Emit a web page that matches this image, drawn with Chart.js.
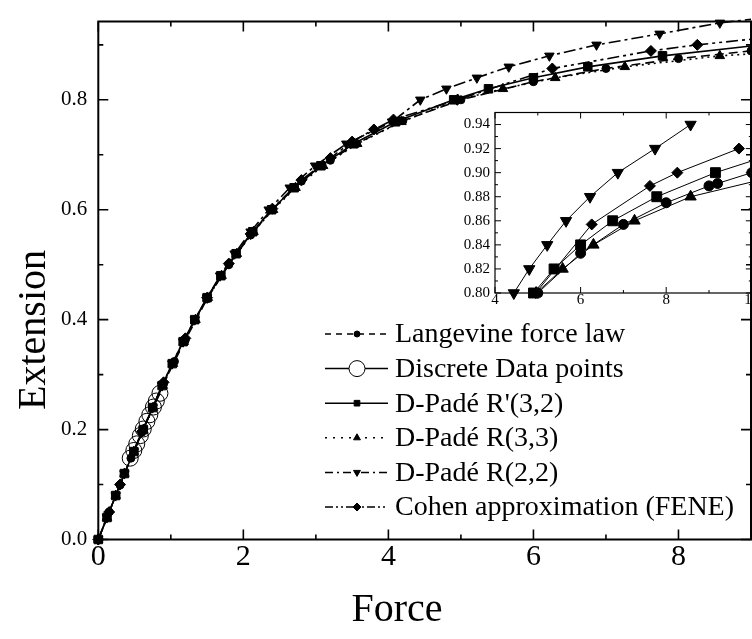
<!DOCTYPE html>
<html>
<head>
<meta charset="utf-8">
<script src="https://cdn.jsdelivr.net/npm/chart.js@4.4.0/dist/chart.umd.min.js"></script>
<style>
  html, body { margin: 0; padding: 0; background: #fff; overflow: hidden; }
  #wrap { position: relative; width: 752px; height: 639px; overflow: hidden; }
  #main { position: absolute; left: 0; top: 0; }
  #inset { position: absolute; left: 440px; top: 100px; }
</style>
</head>
<body>
<div id="wrap">
  <canvas id="main" width="760" height="639"></canvas>
  <canvas id="inset" width="320" height="215"></canvas>
</div>
<script>
// data: force (x) and extension (y)
const langForce = [0, 0.15, 0.3, 0.45, 0.6, 0.75, 0.9, 1.05, 1.2, 1.5, 1.8, 2.1, 2.4, 2.8, 3.2, 3.56, 4.2, 5, 6, 7, 8, 9, 9.2, 10];
const langExt   = [0, 0.050, 0.099, 0.148, 0.195, 0.240, 0.283, 0.324, 0.363, 0.438, 0.500, 0.554, 0.600, 0.652, 0.690, 0.720, 0.762, 0.800, 0.833, 0.857, 0.875, 0.889, 0.891, 0.900];

const dataForce = [0.44, 0.49, 0.53, 0.58, 0.62, 0.67, 0.71, 0.76, 0.80, 0.85];
const dataExt   = [0.148, 0.162, 0.174, 0.189, 0.201, 0.215, 0.227, 0.241, 0.252, 0.266];

// D-Pade R'(3,2)
const r32Force = [0, 0.12, 0.24, 0.36, 0.49, 0.62, 0.75, 0.88, 1.02, 1.17, 1.33, 1.50, 1.69, 1.90, 2.13, 2.39, 2.70, 3.07, 3.52, 4.10, 4.90, 5.38, 6.00, 6.75, 7.78, 9.15, 10.9];
const r32Ext   = [0, 0.04, 0.08, 0.12, 0.16, 0.20, 0.24, 0.28, 0.32, 0.36, 0.40, 0.44, 0.48, 0.52, 0.56, 0.60, 0.64, 0.68, 0.72, 0.76, 0.80, 0.82, 0.84, 0.86, 0.88, 0.90, 0.92];

// D-Pade R(3,3)
const r33Force = [0, 0.12, 0.24, 0.36, 0.49, 0.62, 0.755, 0.89, 1.03, 1.18, 1.34, 1.51, 1.70, 1.91, 2.14, 2.41, 2.72, 3.10, 3.57, 4.18, 4.96, 5.58, 6.30, 7.26, 8.57, 10.9];
const r33Ext   = [0, 0.04, 0.08, 0.12, 0.16, 0.20, 0.24, 0.28, 0.32, 0.36, 0.40, 0.44, 0.48, 0.52, 0.56, 0.60, 0.64, 0.68, 0.72, 0.76, 0.80, 0.82, 0.84, 0.86, 0.88, 0.90];

// D-Pade R(2,2)
const r22Force = [0, 0.12, 0.24, 0.36, 0.49, 0.62, 0.75, 0.88, 1.02, 1.17, 1.33, 1.50, 1.68, 1.88, 2.10, 2.35, 2.64, 2.99, 3.42, 4.05, 4.44, 4.80, 5.22, 5.66, 6.22, 6.87, 7.74, 8.57, 9.9];
const r22Ext   = [0, 0.04, 0.08, 0.12, 0.16, 0.20, 0.24, 0.28, 0.32, 0.36, 0.40, 0.44, 0.48, 0.52, 0.56, 0.60, 0.64, 0.68, 0.72, 0.76, 0.80, 0.82, 0.84, 0.86, 0.88, 0.90, 0.92, 0.94, 0.96];

// Cohen approximation (FENE)
const cohenForce = [0, 0.15, 0.3, 0.6, 0.9, 1.2, 1.5, 1.8, 2.1, 2.4, 2.8, 3.2, 3.5, 3.8, 4.07, 4.95, 6.26, 7.62, 8.26, 9.70];
const cohenExt   = [0, 0.050, 0.100, 0.196, 0.286, 0.366, 0.440, 0.502, 0.556, 0.602, 0.654, 0.694, 0.724, 0.746, 0.764, 0.800, 0.857, 0.889, 0.900, 0.920];

const mainXTicks = [0, 2, 4, 6, 8];
const mainXMinor = [1, 3, 5, 7];
const mainYTicks = [0, 0.2, 0.4, 0.6, 0.8];
const mainYMinor = [0.1, 0.3, 0.5, 0.7, 0.9];
const insetXTicks = [4, 6, 8, 10];
const insetXMinor = [5, 7, 9];
const insetYTicks = [0.80, 0.82, 0.84, 0.86, 0.88, 0.90, 0.92, 0.94];
const insetYMinor = [0.81, 0.83, 0.85, 0.87, 0.89, 0.91, 0.93];

const SERIF = '"Liberation Serif", "Times New Roman", serif';

const series = [
  { label: 'Langevine force law', fx: langForce, ey: langExt, shape: 'circle', rot: 0, r: 4, ri: 5, lr: 3, dash: [9, 5], ldash: [6, 5], filled: true },
  { label: 'Discrete Data points', fx: dataForce, ey: dataExt, shape: 'circle', rot: 0, r: 8, ri: 0, lr: 8, dash: [], ldash: [], filled: false, noInset: true },
  { label: "D-Padé R'(3,2)", fx: r32Force, ey: r32Ext, shape: 'rect', rot: 0, r: 6, ri: 7, lr: 4, dash: [], ldash: [], filled: true },
  { label: 'D-Padé R(3,3)', fx: r33Force, ey: r33Ext, shape: 'triangle', rot: 0, r: 5.5, ri: 6.5, lr: 4, dash: [2, 4], ldash: [2, 6], filled: true },
  { label: 'D-Padé R(2,2)', fx: r22Force, ey: r22Ext, shape: 'triangle', rot: 180, r: 5.5, ri: 6.5, lr: 4, dash: [12, 4, 3, 4], ldash: [8, 4, 2, 4], filled: true },
  { label: 'Cohen approximation (FENE)', fx: cohenForce, ey: cohenExt, shape: 'rectRot', rot: 0, r: 5.5, ri: 5.5, lr: 4, dash: [12, 4, 3, 4, 3, 4], ldash: [8, 3, 2, 3, 2, 3], filled: true }
];

function pts(xs, ys) {
  return xs.map((x, i) => ({ x: x, y: ys[i] }));
}

function line(ctx, x1, y1, x2, y2) {
  ctx.moveTo(x1, y1);
  ctx.lineTo(x2, y2);
}

// frame with inward ticks, drawn from the chart's own scales
function drawFrame(chart, o) {
  const { ctx, chartArea: a } = chart;
  const xs = chart.scales.x, ys = chart.scales.y;
  ctx.save();
  ctx.strokeStyle = '#000';
  ctx.setLineDash([]);
  ctx.lineWidth = o.frameWidth;
  ctx.strokeRect(a.left, a.top, a.right - a.left, a.bottom - a.top);
  ctx.lineWidth = o.tickWidth;
  ctx.beginPath();
  o.xMajor.forEach(v => {
    const px = xs.getPixelForValue(v);
    line(ctx, px, a.bottom, px, a.bottom - o.major);
    line(ctx, px, a.top, px, a.top + o.major);
  });
  o.xMinor.forEach(v => {
    const px = xs.getPixelForValue(v);
    line(ctx, px, a.bottom, px, a.bottom - o.minor);
    line(ctx, px, a.top, px, a.top + o.minor);
  });
  o.yMajor.forEach(v => {
    const py = ys.getPixelForValue(v);
    line(ctx, a.left, py, a.left + o.major, py);
    line(ctx, a.right, py, a.right - o.major, py);
  });
  o.yMinor.forEach(v => {
    const py = ys.getPixelForValue(v);
    line(ctx, a.left, py, a.left + o.minor, py);
    line(ctx, a.right, py, a.right - o.minor, py);
  });
  ctx.stroke();
  ctx.restore();
}

const mainDecor = {
  id: 'mainDecor',
  afterDraw(chart) {
    drawFrame(chart, { frameWidth: 2, tickWidth: 1.6, major: 10, minor: 5,
      xMajor: mainXTicks, xMinor: mainXMinor, yMajor: mainYTicks, yMinor: mainYMinor });
    const ctx = chart.ctx;
    ctx.save();
    ctx.fillStyle = '#000';
    // axis titles
    ctx.font = '40px ' + SERIF;
    ctx.textAlign = 'center';
    ctx.textBaseline = 'middle';
    ctx.fillText('Force', 397, 610);
    ctx.save();
    ctx.translate(34, 330);
    ctx.rotate(-Math.PI / 2);
    ctx.fillText('Extension', 0, 0);
    ctx.restore();

    // legend
    const x0 = 325, x1 = 388, xm = 357, xt = 395, top = 334, step = 34.6;
    ctx.font = '28px ' + SERIF;
    ctx.textAlign = 'left';
    series.forEach((s, i) => {
      const y = top + i * step;
      ctx.strokeStyle = '#000';
      ctx.lineWidth = 1.5;
      ctx.setLineDash(s.ldash);
      ctx.beginPath();
      if (s.filled) {
        line(ctx, x0, y, x1, y);
      } else {
        line(ctx, x0, y, xm - s.lr, y);
        line(ctx, xm + s.lr, y, x1, y);
      }
      ctx.stroke();
      ctx.setLineDash([]);
      ctx.fillStyle = s.filled ? '#000' : 'rgba(0,0,0,0)';
      ctx.lineWidth = 1;
      Chart.helpers.drawPoint(ctx, { pointStyle: s.shape, radius: s.lr, rotation: s.rot, borderWidth: 1 }, xm, y);
      ctx.fillStyle = '#000';
      ctx.fillText(s.label, xt, y + 1);
    });
    ctx.restore();
  }
};

const insetDecor = {
  id: 'insetDecor',
  afterDraw(chart) {
    drawFrame(chart, { frameWidth: 1.2, tickWidth: 1, major: 6, minor: 3,
      xMajor: insetXTicks, xMinor: insetXMinor, yMajor: insetYTicks, yMinor: insetYMinor });
  }
};

const mainDatasets = series.map(s => ({
  label: s.label,
  data: pts(s.fx, s.ey),
  showLine: true,
  borderColor: '#000',
  borderWidth: 1.6,
  borderDash: s.dash,
  pointStyle: s.shape,
  pointRotation: s.rot,
  pointRadius: s.r,
  pointBackgroundColor: s.filled ? '#000' : 'rgba(0,0,0,0)',
  pointBorderColor: '#000',
  pointBorderWidth: 1,
  clip: { left: 8, top: 8, right: 0, bottom: 8 }
}));

const insetDatasets = series.filter(s => !s.noInset).map(s => {
  const p = pts(s.fx, s.ey).filter(q => q.x >= 4 && q.y >= 0.7999 && q.y <= 0.95);
  return {
    label: s.label,
    data: p,
    showLine: true,
    borderColor: '#000',
    borderWidth: 1,
    pointStyle: s.shape,
    pointRotation: s.rot,
    pointRadius: s.ri,
    pointBackgroundColor: '#000',
    pointBorderColor: '#000',
    pointBorderWidth: 1,
    clip: { left: 10, top: 10, right: 0, bottom: 10 }
  };
});

new Chart(document.getElementById('main'), {
  type: 'scatter',
  data: { datasets: mainDatasets },
  options: {
    responsive: false,
    animation: false,
    devicePixelRatio: 1,
    layout: { padding: { left: 0, top: 7, right: 2, bottom: 0 } },
    plugins: { legend: { display: false }, tooltip: { enabled: false } },
    scales: {
      x: {
        type: 'linear', min: 0, max: 9,
        grid: { display: false, drawTicks: false },
        border: { display: false },
        afterFit: sc => { sc.height = 99.5; },
        afterBuildTicks: sc => { sc.ticks = mainXTicks.map(v => ({ value: v })); },
        ticks: { autoSkip: false, maxRotation: 0, padding: 3, color: '#000',
          font: { family: SERIF, size: 30, lineHeight: 1 },
          callback: v => String(v) }
      },
      y: {
        type: 'linear', min: 0, max: 0.9425,
        grid: { display: false, drawTicks: false },
        border: { display: false },
        afterFit: sc => { sc.width = 98.3; },
        afterBuildTicks: sc => { sc.ticks = mainYTicks.map(v => ({ value: v })); },
        ticks: { autoSkip: false, padding: 11, color: '#000',
          font: { family: SERIF, size: 21, lineHeight: 1 },
          callback: v => Number(v).toFixed(1) }
      }
    }
  },
  plugins: [mainDecor]
});

new Chart(document.getElementById('inset'), {
  type: 'scatter',
  data: { datasets: insetDatasets },
  options: {
    responsive: false,
    animation: false,
    devicePixelRatio: 1,
    layout: { padding: { left: 0, top: 10, right: 8.2, bottom: 0 } },
    plugins: { legend: { display: false }, tooltip: { enabled: false } },
    scales: {
      x: {
        type: 'linear', min: 4, max: 10,
        grid: { display: false, drawTicks: false },
        border: { display: false },
        afterFit: sc => { sc.height = 22; },
        afterBuildTicks: sc => { sc.ticks = insetXTicks.map(v => ({ value: v })); },
        ticks: { autoSkip: false, maxRotation: 0, padding: 0, color: '#000',
          font: { family: SERIF, size: 15, lineHeight: 1 },
          callback: v => String(v) }
      },
      y: {
        type: 'linear', min: 0.80, max: 0.95,
        grid: { display: false, drawTicks: false },
        border: { display: false },
        afterFit: sc => { sc.width = 55; },
        afterBuildTicks: sc => { sc.ticks = insetYTicks.map(v => ({ value: v })); },
        ticks: { autoSkip: false, padding: 5, color: '#000',
          font: { family: SERIF, size: 15, lineHeight: 1 },
          callback: v => Number(v).toFixed(2) }
      }
    }
  },
  plugins: [insetDecor]
});
</script>
</body>
</html>
